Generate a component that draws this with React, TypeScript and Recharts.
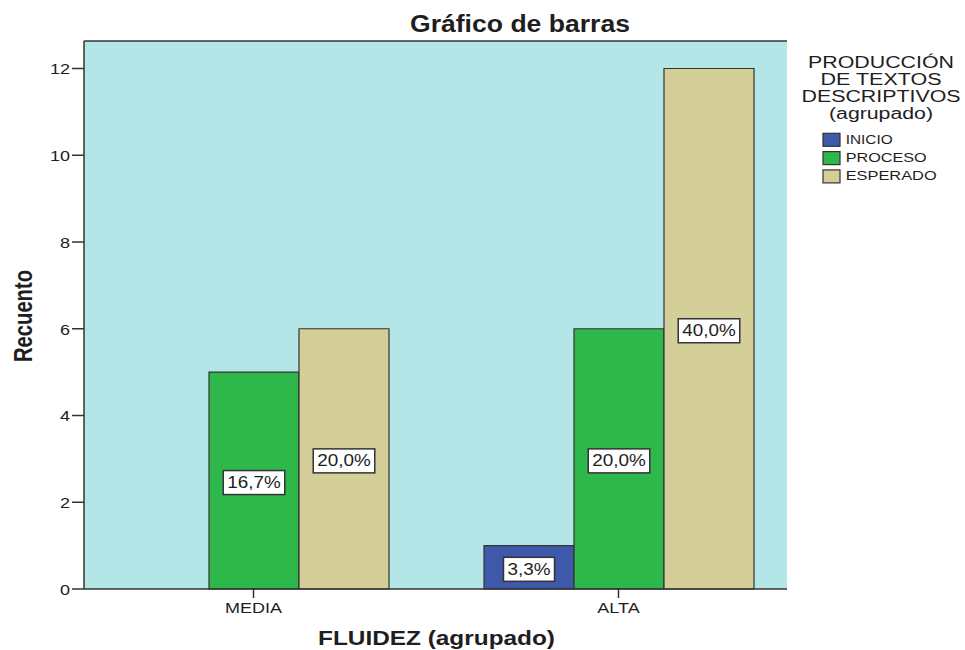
import React from 'react'
import {
    BarChart,
    Bar,
    XAxis,
    YAxis,
    CartesianGrid,
    Legend,
    LabelList
} from "recharts";

const categories = ['MEDIA', 'ALTA']
const inicio = [0, 1]
const proceso = [5, 6]
const esperado = [6, 12]
const yTicks = [0, 2, 4, 6, 8, 10, 12]

const seriesNames = ['INICIO', 'PROCESO', 'ESPERADO']
const seriesColors = ['#3e58aa', '#2eb84c', '#d4ce98']
const legendTitle = ['PRODUCCIÓN', 'DE TEXTOS', 'DESCRIPTIVOS', '(agrupado)']
const legendTitleWidths = [146, 121, 159, 104]
const legendItemWidths = [47, 81, 91]

const data = categories.map((label, i) => ({
    label,
    INICIO: inicio[i],
    PROCESO: proceso[i],
    ESPERADO: esperado[i]
}))
const total = [...inicio, ...proceso, ...esperado].reduce((a, b) => a + b, 0)

const FONT = '"Liberation Sans", Arial, sans-serif'
const INK = '#1e1e1e'
const LINE = '#333'

// rough Liberation Sans widths (em) for the percent boxes
const charW = (c: string) => (c === ',' ? 0.278 : c === '%' ? 0.889 : 0.556)

const PctLabel = (props: any) => {
    const vb = props.viewBox || props
    const { value } = props
    if (!value) return null
    const txt = ((value / total) * 100).toFixed(1).replace('.', ',') + '%'
    const w = txt.split('').reduce((s, c) => s + charW(c), 0) * 16 * 1.18
    const bw = w + 8
    const cx = vb.x + vb.width / 2
    const cy = vb.y + vb.height / 2 + 2
    return (
        <g>
            <rect x={cx - bw / 2} y={cy - 12} width={bw} height={24} fill="#fff" stroke={LINE} strokeWidth={1.5} />
            <text
                transform={`translate(${cx},${cy}) scale(1.18,1)`}
                textAnchor="middle"
                dominantBaseline="central"
                fontSize={16}
                fontFamily={FONT}
                fill={INK}>
                {txt}
            </text>
        </g>
    )
}

const YTick = ({ x, y, payload }: any) => (
    <text
        transform={`translate(${x},${y + 1}) scale(1.2,1)`}
        textAnchor="end"
        dominantBaseline="central"
        fontSize={15}
        fontFamily={FONT}
        fill={INK}>
        {payload.value}
    </text>
)

const XTick = ({ x, y, payload }: any) => (
    <text
        transform={`translate(${x},${y + 13}) scale(1.2,1)`}
        textAnchor="middle"
        fontSize={15}
        fontFamily={FONT}
        fill={INK}>
        {payload.value}
    </text>
)

const LegendBox = () => (
    <svg width={175} height={150} style={{ display: 'block' }}>
        {legendTitle.map((t, i) => (
            <text key={t} x={91} y={28.3 + i * 16.9} textAnchor="middle" fontSize={16} fontFamily={FONT} fill={INK}
                textLength={legendTitleWidths[i]} lengthAdjust="spacingAndGlyphs">
                {t}
            </text>
        ))}
        {seriesNames.map((n, i) => (
            <g key={n}>
                <rect x={33} y={93.3 + i * 18.3} width={17} height={13} fill={seriesColors[i]} stroke={LINE} strokeWidth={1.2} />
                <text x={55.7} y={104.3 + i * 18} fontSize={13} fontFamily={FONT} fill={INK}
                    textLength={legendItemWidths[i]} lengthAdjust="spacingAndGlyphs">
                    {n}
                </text>
            </g>
        ))}
    </svg>
)

const App = () => {
    return (
        <div style={{ position: 'absolute', left: 0, top: 0, background: '#fff' }}>
            <svg width={965} height={40} style={{ position: 'absolute', left: 0, top: 0 }}>
                <text x={520} y={31.5} textAnchor="middle" fontSize={23} fontWeight="bold" fontFamily={FONT} fill={INK}
                    textLength={220} lengthAdjust="spacingAndGlyphs">
                    Gráfico de barras
                </text>
            </svg>
            <BarChart
                width={965}
                height={650}
                data={data}
                barCategoryGap={48}
                barGap={0}
                margin={{ top: 40, right: 178, left: 24, bottom: 31 }}>
                <CartesianGrid horizontal={false} vertical={false} fill="#b4e6e8" fillOpacity={1} />
                <XAxis
                    dataKey="label"
                    padding={{ left: -13, right: -14 }}
                    height={30}
                    tickSize={9}
                    tickMargin={2}
                    tick={<XTick />}
                    tickLine={{ stroke: LINE, strokeWidth: 1.5 }}
                    axisLine={{ stroke: LINE, strokeWidth: 1.5 }}
                    label={{
                        content: () => (
                            <text x={436.5} y={645} textAnchor="middle" fontSize={20} fontWeight="bold" fontFamily={FONT} fill={INK}
                                textLength={237} lengthAdjust="spacingAndGlyphs">
                                FLUIDEZ (agrupado)
                            </text>
                        )
                    }}
                />
                <XAxis
                    xAxisId="top"
                    dataKey="label"
                    orientation="top"
                    height={1}
                    tick={false}
                    tickLine={false}
                    axisLine={{ stroke: LINE, strokeWidth: 1.5 }}
                />
                <YAxis
                    domain={[0, 12.634]}
                    ticks={yTicks}
                    width={60}
                    tickSize={12}
                    tickMargin={2}
                    tick={<YTick />}
                    tickLine={{ stroke: LINE, strokeWidth: 1.5 }}
                    axisLine={{ stroke: LINE, strokeWidth: 1.5 }}
                    label={{
                        content: () => (
                            <text transform="translate(31.5,316) scale(1.3,1) rotate(-90)" textAnchor="middle" fontSize={20} fontWeight="bold" fontFamily={FONT} fill={INK}
                                textLength={92} lengthAdjust="spacingAndGlyphs">
                                Recuento
                            </text>
                        )
                    }}
                />
                <YAxis
                    yAxisId="right"
                    orientation="right"
                    width={0}
                    domain={[0, 1]}
                    tick={false}
                    tickLine={false}
                    axisLine={{ stroke: LINE, strokeWidth: 1.5 }}
                />
                <Legend
                    layout="horizontal"
                    verticalAlign="middle"
                    align="center"
                    content={() => <LegendBox />}
                    wrapperStyle={{ position: 'absolute', left: 790, top: 40, width: 175, height: 150 }}
                />
                {seriesNames.map((n, i) => (
                    <Bar key={n} dataKey={n} fill={seriesColors[i]} stroke={LINE} strokeWidth={1.2} isAnimationActive={false}>
                        <LabelList dataKey={n} content={<PctLabel />} />
                    </Bar>
                ))}
            </BarChart>
        </div>
    );
}

export default App
